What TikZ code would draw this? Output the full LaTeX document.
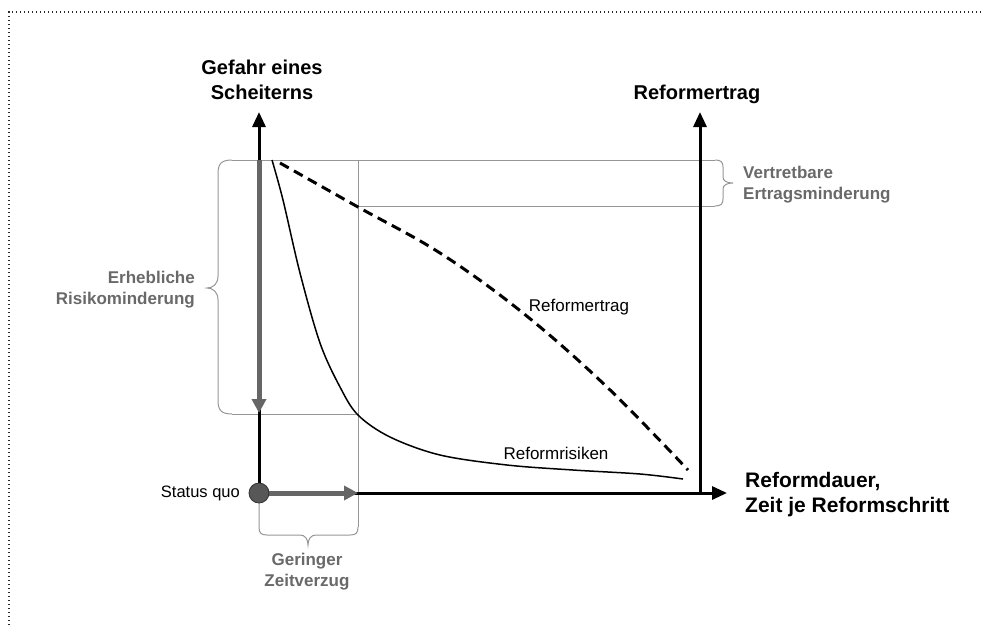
\documentclass[tikz,border=0pt]{standalone}
\usepackage{fontspec}
\setmainfont{Liberation Sans}
\usetikzlibrary{arrows.meta}
\definecolor{gline}{RGB}{150,150,150}
\definecolor{garrow}{RGB}{102,102,102}
\definecolor{gtext}{RGB}{105,105,105}
\definecolor{dotc}{RGB}{40,40,40}
\tikzset{
  axisline/.style={line width=3pt, black, -{Triangle[length=15pt,width=13pt]}},
  grayarrow/.style={line width=5pt, garrow, -{Triangle[length=14pt,width=14pt]}},
  guide/.style={line width=1pt, gline},
  dotframe/.style={line width=1.2pt, dotc, dash pattern=on 1.2pt off 2.8pt},
  titletext/.style={font=\fontsize{20}{25}\selectfont\bfseries, inner sep=0pt},
  axtext/.style={font=\fontsize{21}{25}\selectfont\bfseries, inner sep=0pt, align=left},
  graytext/.style={font=\fontsize{17}{21}\selectfont\bfseries, text=gtext, inner sep=0pt},
  curvelabel/.style={font=\fontsize{17}{20}\selectfont, inner sep=0pt},
}
\begin{document}
\begin{tikzpicture}[x=1pt,y=-1pt]
\useasboundingbox (0,0) rectangle (982,625);
% dotted frame
\draw[dotframe] (9,625) -- (9,12) -- (982,12);

% coordinates
\coordinate (O) at (259,493);
\coordinate (ytip) at (259,112);
\coordinate (xtip) at (727,493);
\coordinate (rbase) at (700,493);
\coordinate (rtip) at (700,112);
\coordinate (gtop) at (259,160);
\coordinate (gbot) at (259,413);
\coordinate (hend) at (358,493);

% guide lines and braces
\draw[guide] (232,160) -- (715,160);
\draw[guide] (358,206) -- (715,206);
\draw[guide] (232,414) -- (358,414);
\draw[guide] (358,160) -- (358,527);
% left brace
\draw[guide] (232,160) .. controls (221,160) and (218,164) .. (218,174) -- (218,276)
  .. controls (218,284) and (213,288) .. (207,288)
  .. controls (213,288) and (218,292) .. (218,300) -- (218,400)
  .. controls (218,410) and (221,414) .. (232,414);
% right brace
\draw[guide] (715,160) .. controls (721,160) and (723,162) .. (723,167) -- (723,177)
  .. controls (723,181) and (727,183) .. (733,183)
  .. controls (727,183) and (723,185) .. (723,189) -- (723,199)
  .. controls (723,204) and (721,206) .. (715,206);
% bottom brace
\draw[guide] (259,500) -- (259,527) .. controls (259,533) and (261,535) .. (267,535) -- (300,535)
  .. controls (305,535) and (308,539) .. (308,545)
  .. controls (308,539) and (311,535) .. (316,535) -- (350,535)
  .. controls (356,535) and (358,533) .. (358,527);

% axes
\draw[axisline] (O) -- (ytip);
\draw[axisline] (O) -- (xtip);
\draw[axisline] (rbase) -- (rtip);

% gray arrows
\draw[grayarrow] (gtop) -- (gbot);
\draw[grayarrow] (O) -- (hend);

% status quo circle
\node[circle, fill=garrow!85!black, draw=black!80, line width=0.8pt, minimum size=20pt, inner sep=0pt] (sq) at (O) {};

% curves
\draw[line width=1.5pt, black] plot[smooth, tension=0.55] coordinates {
  (272,160) (283,200) (300,273) (320,343) (340,387) (358,415) (390,437) (440,455) (507,465) (573,470) (640,474) (683,479)};
\draw[line width=3pt, black, dash pattern=on 10pt off 6pt] plot[smooth, tension=0.6] coordinates {
  (280,163) (358,207) (440,253) (523,313) (607,387) (688,470)};

% texts
\node[titletext, align=center] (ytitle) at (262,80) {Gefahr eines\\Scheiterns};
\node[titletext] (rtitle) at (697,94) {Reformertrag};
\node[axtext, anchor=west] (xtitle) at (745,495) {Reformdauer,\\Zeit je Reformschritt};
\node[graytext, align=left, anchor=west] (vert) at (743,185) {Vertretbare\\Ertragsminderung};
\node[graytext, align=right, anchor=east] (erh) at (195,290) {Erhebliche\\Risikominderung};
\node[graytext, align=center] (ger) at (307,572) {Geringer\\Zeitverzug};
\node[curvelabel] (lert) at (579,307) {Reformertrag};
\node[curvelabel] (lris) at (556,453) {Reformrisiken};
\node[curvelabel, anchor=east, font=\fontsize{16.5}{20}\selectfont] (sqt) at (240,493) {Status quo};
\end{tikzpicture}
\end{document}
